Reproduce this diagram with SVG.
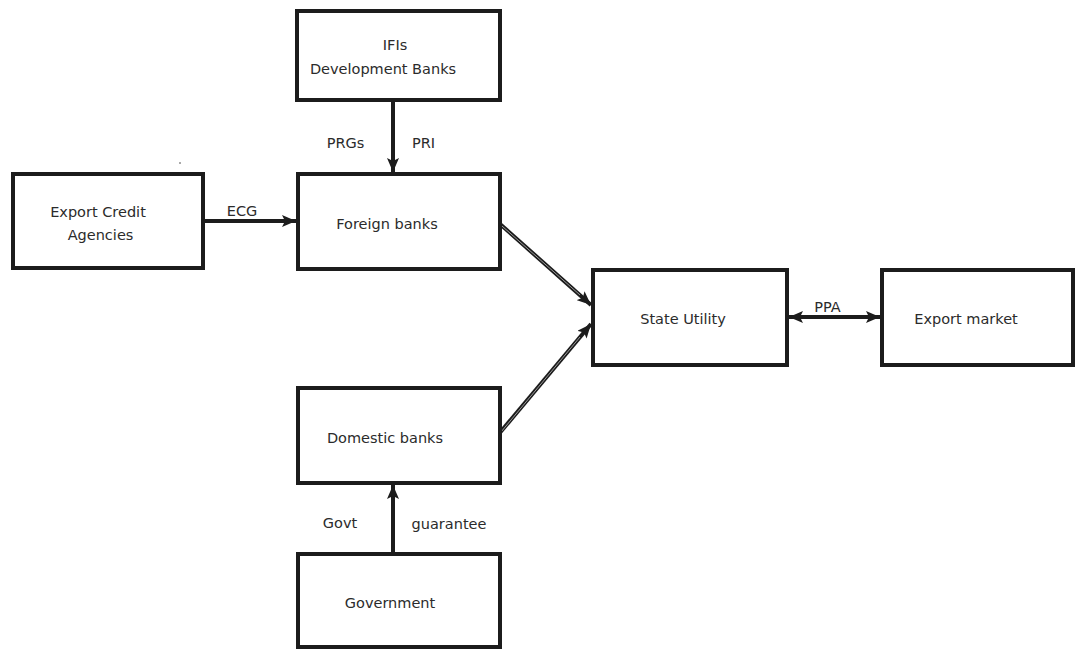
<svg xmlns="http://www.w3.org/2000/svg" width="1075" height="650" viewBox="0 0 1075 650">
  <style>
    .box { fill: #ffffff; stroke: #1c1c1c; stroke-width: 4; }
    .lbl { font-family: "DejaVu Sans", "Liberation Sans", sans-serif; font-size: 14.5px; fill: #2b2b2b; text-anchor: middle; }
    .link { stroke: #1c1c1c; stroke-width: 4; fill: none; }
    .inner { stroke: #9a9a9a; stroke-width: 1; fill: none; }
  </style>
  <defs>
    <marker id="head" viewBox="0 0 14 12" refX="14" refY="6" markerWidth="14" markerHeight="12" markerUnits="userSpaceOnUse" orient="auto-start-reverse">
      <path d="M0,0 L14,6 L0,12 L3,6 Z" fill="#1c1c1c"/>
    </marker>
  </defs>

  <rect width="1075" height="650" fill="#ffffff"/>

  <!-- connectors -->
  <g id="connectors">
    <line class="link" x1="393" y1="100" x2="393" y2="172" marker-end="url(#head)"/>
    <line class="link" x1="201" y1="221" x2="296" y2="221" marker-end="url(#head)"/>
    <line class="link" x1="500" y1="224" x2="591" y2="305" marker-end="url(#head)"/>
    <line class="inner" x1="502" y1="226" x2="580" y2="295"/>
    <line class="link" x1="498" y1="435" x2="591" y2="324" marker-end="url(#head)"/>
    <line class="inner" x1="501" y1="432" x2="580" y2="337" stroke="#6a6a6a"/>
    <line class="link" x1="789" y1="317" x2="880" y2="317" marker-start="url(#head)" marker-end="url(#head)"/>
    <line class="link" x1="393" y1="554" x2="393" y2="485" marker-end="url(#head)"/>
    <text class="lbl" x="345.5" y="148">PRGs</text>
    <text class="lbl" x="423.5" y="148">PRI</text>
    <text class="lbl" x="242" y="216">ECG</text>
    <text class="lbl" x="827.5" y="312">PPA</text>
    <text class="lbl" x="340" y="528">Govt</text>
    <text class="lbl" x="449" y="529">guarantee</text>
  </g>

  <!-- stray mark -->
  <line x1="179" y1="163" x2="181" y2="163" stroke="#555" stroke-width="1"/>

  <g id="ifis">
    <rect class="box" x="297" y="11" width="203" height="89"/>
    <text class="lbl" x="395" y="50">IFIs</text>
    <text class="lbl" x="383" y="74">Development Banks</text>
  </g>

  <g id="foreign-banks">
    <rect class="box" x="298" y="174" width="202" height="95"/>
    <text class="lbl" x="387" y="229">Foreign banks</text>
  </g>

  <g id="export-credit-agencies">
    <rect class="box" x="13" y="174" width="190" height="94"/>
    <text class="lbl" x="98" y="217">Export Credit</text>
    <text class="lbl" x="100.5" y="240">Agencies</text>
  </g>

  <g id="state-utility">
    <rect class="box" x="593" y="270" width="194" height="95"/>
    <text class="lbl" x="683" y="324">State Utility</text>
  </g>

  <g id="export-market">
    <rect class="box" x="882" y="270" width="191" height="95"/>
    <text class="lbl" x="966" y="324">Export market</text>
  </g>

  <g id="domestic-banks">
    <rect class="box" x="298" y="388" width="202" height="95"/>
    <text class="lbl" x="385" y="443">Domestic banks</text>
  </g>

  <g id="government">
    <rect class="box" x="298" y="554" width="202" height="93"/>
    <text class="lbl" x="390" y="608">Government</text>
  </g>
</svg>
